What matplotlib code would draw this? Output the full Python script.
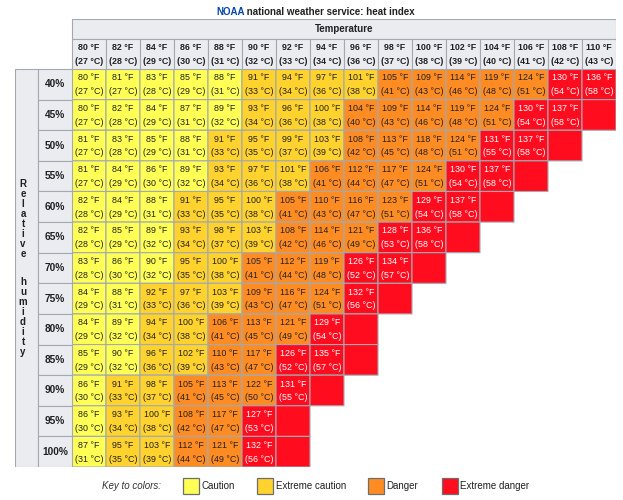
import numpy as np
import matplotlib.pyplot as plt
from matplotlib.colors import ListedColormap, BoundaryNorm
from matplotlib.patches import Rectangle

plt.rcParams['font.family'] = ['Liberation Sans', 'DejaVu Sans']

temps_f = [80, 82, 84, 86, 88, 90, 92, 94, 96, 98, 100, 102, 104, 106, 108, 110]
temps_c = [27, 28, 29, 30, 31, 32, 33, 34, 36, 37, 38, 39, 40, 41, 42, 43]
humidity = [40, 45, 50, 55, 60, 65, 70, 75, 80, 85, 90, 95, 100]

# heat index per humidity row, starting at 80 °F
heat_f = [
    [80, 81, 83, 85, 88, 91, 94, 97, 101, 105, 109, 114, 119, 124, 130, 136],
    [80, 82, 84, 87, 89, 93, 96, 100, 104, 109, 114, 119, 124, 130, 137],
    [81, 83, 85, 88, 91, 95, 99, 103, 108, 113, 118, 124, 131, 137],
    [81, 84, 86, 89, 93, 97, 101, 106, 112, 117, 124, 130, 137],
    [82, 84, 88, 91, 95, 100, 105, 110, 116, 123, 129, 137],
    [82, 85, 89, 93, 98, 103, 108, 114, 121, 128, 136],
    [83, 86, 90, 95, 100, 105, 112, 119, 126, 134],
    [84, 88, 92, 97, 103, 109, 116, 124, 132],
    [84, 89, 94, 100, 106, 113, 121, 129],
    [85, 90, 96, 102, 110, 117, 126, 135],
    [86, 91, 98, 105, 113, 122, 131],
    [86, 93, 100, 108, 117, 127],
    [87, 95, 103, 112, 121, 132],
]
heat_c = [
    [27, 27, 28, 29, 31, 33, 34, 36, 38, 41, 43, 46, 48, 51, 54, 58],
    [27, 28, 29, 31, 32, 34, 36, 38, 40, 43, 46, 48, 51, 54, 58],
    [27, 28, 29, 31, 33, 35, 37, 39, 42, 45, 48, 51, 55, 58],
    [27, 29, 30, 32, 34, 36, 38, 41, 44, 47, 51, 54, 58],
    [28, 29, 31, 33, 35, 38, 41, 43, 47, 51, 54, 58],
    [28, 29, 32, 34, 37, 39, 42, 46, 49, 53, 58],
    [28, 30, 32, 35, 38, 41, 44, 48, 52, 57],
    [29, 31, 33, 36, 39, 43, 47, 51, 56],
    [29, 32, 34, 38, 41, 45, 49, 54],
    [29, 32, 36, 39, 43, 47, 52, 57],
    [30, 33, 37, 41, 45, 50, 55],
    [30, 34, 38, 42, 47, 53],
    [31, 35, 39, 44, 49, 56],
]

level_bounds = [0, 91, 104, 125, 999]
level_names = ['Caution', 'Extreme caution', 'Danger', 'Extreme danger']
level_colors = ['#ffff55', '#ffd22e', '#ff8c22', '#ff0c1f']

grey = '#eaecf0'
line = '#a2a9b1'
ink = '#202122'

n_rows, n_cols = len(humidity), len(temps_f)
code = np.full((n_rows, n_cols), np.nan)
for i, row in enumerate(heat_f):
    code[i, :len(row)] = np.digitize(row, level_bounds) - 1
    if len(row) < n_cols:
        code[i, len(row)] = 3   # empty "extreme danger" cell closing the row

fig = plt.figure(figsize=(6.23, 5), dpi=100)
W, H = 623, 500
w_hum = 23 / 34
h_top = 20 / 30.6
h_hdr = 30 / 30.6

ax = fig.add_axes([15 / W, 1 - 467 / H, 601 / W, 448 / H])
ax.set_xlim(-1 - w_hum, n_cols)
ax.set_ylim(n_rows, -(h_top + h_hdr))
ax.axis('off')

cmap = ListedColormap(level_colors)
norm = BoundaryNorm([-0.5, 0.5, 1.5, 2.5, 3.5], cmap.N)
ax.pcolor(np.arange(n_cols + 1), np.arange(n_rows + 1), np.ma.masked_invalid(code),
          cmap=cmap, norm=norm, edgecolors=line, linewidth=0.8)

for i, row in enumerate(heat_f):
    for j, v in enumerate(row):
        col = 'white' if code[i, j] == 3 else ink
        ax.text(j + 0.5, i + 0.29, f'{v} °F', ha='center', va='center', fontsize=6.4, color=col)
        ax.text(j + 0.5, i + 0.74, f'({heat_c[i][j]} °C)', ha='center', va='center',
                fontsize=6.4, color=col)

# header: temperature
ax.add_patch(Rectangle((0, -(h_top + h_hdr)), n_cols, h_top, fc=grey, ec=line, lw=0.8))
ax.text(n_cols / 2, -(h_hdr + h_top / 2), 'Temperature', ha='center', va='center',
        fontsize=7, fontweight='bold', color=ink)
for j, (tf, tc) in enumerate(zip(temps_f, temps_c)):
    ax.add_patch(Rectangle((j, -h_hdr), 1, h_hdr, fc=grey, ec=line, lw=0.8))
    ax.text(j + 0.5, -h_hdr + 0.28, f'{tf} °F', ha='center', va='center',
            fontsize=6.4, fontweight='bold', color=ink)
    ax.text(j + 0.5, -h_hdr + 0.73, f'({tc} °C)', ha='center', va='center',
            fontsize=6.4, fontweight='bold', color=ink)

# left header: relative humidity
ax.add_patch(Rectangle((-1 - w_hum, 0), w_hum, n_rows, fc=grey, ec=line, lw=0.8))
for i, rh in enumerate(humidity):
    ax.add_patch(Rectangle((-1, i), 1, 1, fc=grey, ec=line, lw=0.8))
    ax.text(-0.5, i + 0.5, f'{rh}%', ha='center', va='center', fontsize=7.3,
            fontweight='bold', color=ink)

letters = list('Relative') + [''] + list('humidity')
step = 10 / 30.6
y0 = n_rows / 2 - step * (len(letters) - 1) / 2
x_l = -1 - w_hum + 8 / 34
for k, ch in enumerate(letters):
    ax.text(x_l, y0 + k * step + (0.8 * step if k > 8 else 0) - 0.4 * step, ch,
            ha='center', va='center', fontsize=7, fontweight='bold', color=ink)

# overlay for title and key
lax = fig.add_axes([0, 0, 1, 1])
lax.set_xlim(0, W)
lax.set_ylim(H, 0)
lax.axis('off')

r = fig.canvas.get_renderer()
t_a = lax.text(0, 12, 'NOAA', ha='left', va='center', fontsize=7, fontweight='bold',
               color='#0645ad')
t_b = lax.text(0, 12, ' national weather service: heat index', ha='left', va='center',
               fontsize=7, fontweight='bold', color=ink)
wa = t_a.get_window_extent(r).width
wb = t_b.get_window_extent(r).width
x0 = 315.5 - (wa + wb) / 2
t_a.set_x(x0)
t_b.set_x(x0 + wa)

lax.text(161, 486, 'Key to colors:', ha='right', va='center', fontsize=7,
         style='italic', color='#333333')
sw_x = [183, 257, 368, 442]
for sx, name, c in zip(sw_x, level_names, level_colors):
    lax.add_patch(Rectangle((sx, 478), 16, 15.5, fc=c, ec='#6e6e6e', lw=0.9))
    lax.text(sx + 18.5, 486, name, ha='left', va='center', fontsize=7, color=ink)

fig.savefig('out.png', dpi=100)
